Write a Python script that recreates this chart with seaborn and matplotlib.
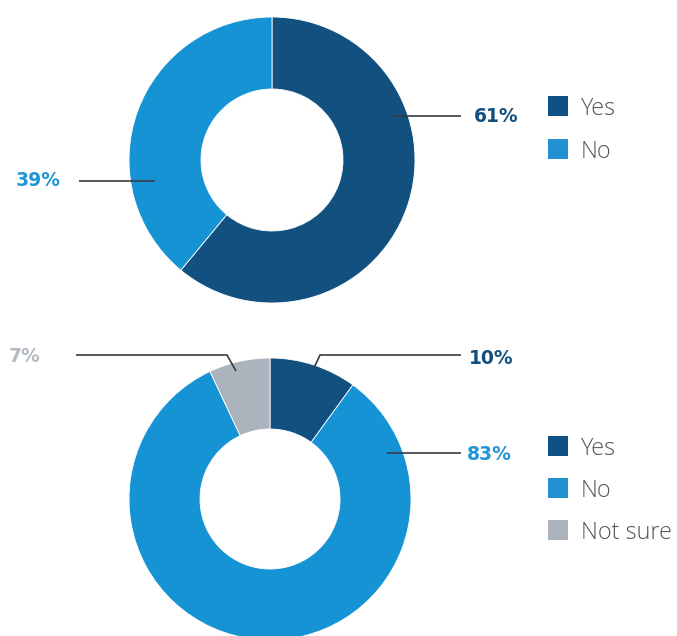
import matplotlib
matplotlib.use("Agg")
import matplotlib.pyplot as plt
from matplotlib.patches import Rectangle
import seaborn as sns

# Survey answers
q1_labels = ["Yes", "No"]
q1_values = [61, 39]
q2_labels = ["Yes", "No", "Not sure"]
q2_values = [10, 83, 7]

DARK = "#12507f"
LIGHT = "#1593d4"
GREY = "#abb3bd"
q1_colors = [DARK, LIGHT]
q2_colors = [DARK, LIGHT, GREY]
q1_text_colors = [DARK, "#2196d6"]
q2_text_colors = [DARK, "#2196d6", "#b3b9c0"]

sns.set_theme(style="white")
plt.rcParams["font.family"] = ["Open Sans", "DejaVu Sans"]

W, H = 677, 636
fig = plt.figure(figsize=(W / 100, H / 100), dpi=100)
ax = fig.add_axes([0, 0, 1, 1])


def py(y):
    """Convert a top-down pixel row to the axis' upward y coordinate."""
    return H - y


def donut(values, colors, cx, cy, r_out, r_in):
    ax.pie(values, colors=colors, startangle=90, counterclock=False,
           radius=r_out, center=(cx, py(cy)),
           wedgeprops=dict(width=r_out - r_in, edgecolor="white", linewidth=0.6))


def leader(points, text, color, tx, ty, ha):
    xs = [p[0] for p in points]
    ys = [py(p[1]) for p in points]
    ax.plot(xs, ys, color="#343c44", lw=1.2, solid_capstyle="butt", zorder=5)
    ax.text(tx, py(ty), text, color=color, fontsize=13.5, fontweight="bold",
            family=["DejaVu Sans"], ha=ha, va="center_baseline")


def legend(labels, colors, x, y0, step):
    for i, (lab, col) in enumerate(zip(labels, colors)):
        yc = y0 + i * step
        ax.add_patch(Rectangle((x, py(yc + 10)), 20, 20, facecolor=col,
                               edgecolor="none"))
        ax.text(x + 33, py(yc), lab, color="#50565d", fontsize=16.8,
                fontweight=300, ha="left", va="center_baseline")


# First question
donut(q1_values, q1_colors, 272, 160, 143, 71)
leader([(390, 116), (461, 116)], f"{q1_values[0]}%", q1_text_colors[0], 474, 115, "left")
leader([(79, 181), (155, 181)], f"{q1_values[1]}%", q1_text_colors[1], 61, 179, "right")
legend(q1_labels, ["#0f5185", "#2191d2"], 548, 106, 43)

# Second question
donut(q2_values, q2_colors, 270, 499, 141, 70)
leader([(313, 370), (320, 355), (461, 355)], f"{q2_values[0]}%", q2_text_colors[0], 469, 356, "left")
leader([(387, 453), (461, 453)], f"{q2_values[1]}%", q2_text_colors[1], 467, 452, "left")
leader([(236, 371), (227, 355), (76, 355)], f"{q2_values[2]}%", q2_text_colors[2], 41, 354, "right")
legend(q2_labels, ["#0f5185", "#2191d2", GREY], 548, 446, 42)

ax.set_xlim(0, W)
ax.set_ylim(0, H)
ax.set_aspect("equal")
ax.axis("off")

fig.savefig("out.png", dpi=100, facecolor="white")
